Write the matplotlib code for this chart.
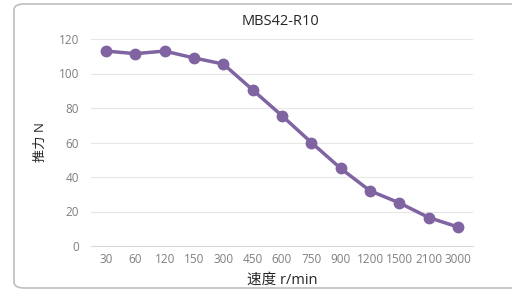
import matplotlib.pyplot as plt
from matplotlib.patches import FancyBboxPatch

plt.rcParams['font.family'] = ['Open Sans', 'Noto Sans CJK SC', 'DejaVu Sans']

speeds = ['30', '60', '120', '150', '300', '450', '600', '750', '900',
          '1200', '1500', '2100', '3000']
thrust = [113, 111.5, 113, 109, 105.5, 90.5, 75.5, 60, 45, 32, 25, 16.5, 11]
yticks = [0, 20, 40, 60, 80, 100, 120]

W, H = 512, 292
fig = plt.figure(figsize=(W / 100, H / 100), dpi=100)

# chart frame (cut off on the right)
frame = FancyBboxPatch((14 / W, 4 / H), 520 / W, 284 / H,
                       boxstyle='round,pad=0,rounding_size=0.02',
                       transform=fig.transFigure, facecolor='none',
                       edgecolor='#bfbfbf', linewidth=1.2, zorder=-1)
fig.patches.append(frame)

ax = fig.add_axes([91.3 / W, 1 - 246 / H, (472.7 - 91.3) / W, (246 - 39) / H])
ax.set_facecolor('none')
x = range(len(speeds))
ax.plot(x, thrust, color='#8064a2', linewidth=2.5, marker='o',
        markersize=7.5, zorder=3)

ax.set_xlim(-0.5, len(speeds) - 0.5)
ax.set_ylim(0, 120)
ax.set_xticks(list(x))
ax.set_xticklabels(speeds)
ax.set_yticks(yticks)
ax.tick_params(axis='both', length=0, labelsize=8.5, colors='#7f7f7f')
ax.tick_params(axis='y', pad=9)
ax.tick_params(axis='x', pad=5)
ax.grid(axis='y', color='#e6e6e6', linewidth=0.8)
for s in ['top', 'right', 'left']:
    ax.spines[s].set_visible(False)
ax.spines['bottom'].set_color('#d9d9d9')

ax.set_title('MBS42-R10', fontsize=10.5, color='#262626', pad=10, x=0.495)
ax.set_xlabel('速度 r/min', fontsize=10.5, color='#262626', labelpad=5)
ax.set_ylabel('推力 N', fontsize=9.5, color='#262626', labelpad=8)

fig.savefig('out.png', dpi=100)
